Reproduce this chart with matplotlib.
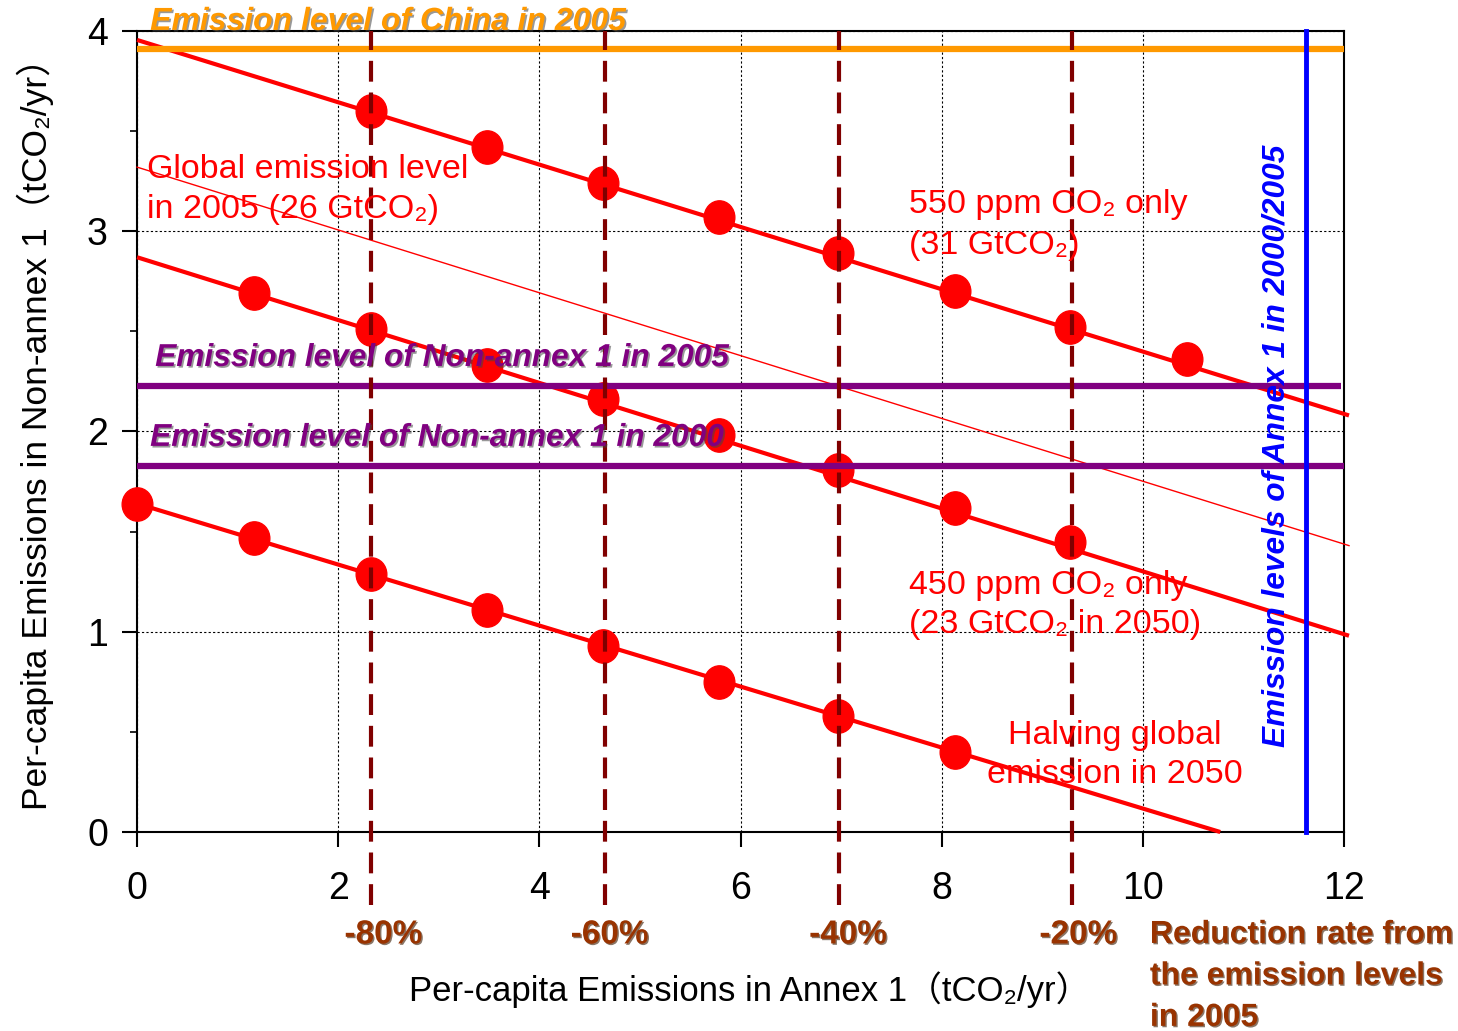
import matplotlib
matplotlib.use("Agg")
import matplotlib.pyplot as plt
import matplotlib.patheffects as pe
import matplotlib.transforms as mtransforms
from matplotlib.path import Path
import numpy as np

# ---------------- data ----------------
x_550 = [2.33, 3.48, 4.63, 5.79, 6.97, 8.13, 9.28, 10.44]
y_550 = [3.60, 3.42, 3.24, 3.07, 2.89, 2.70, 2.52, 2.36]
line550_x = [0.0, 12.05]
line550_y = [3.955, 2.08]

x_450 = [1.16, 2.33, 3.48, 4.63, 5.79, 6.97, 8.13, 9.28]
y_450 = [2.69, 2.51, 2.33, 2.16, 1.98, 1.81, 1.62, 1.45]
line450_x = [0.0, 12.05]
line450_y = [2.87, 0.98]

x_half = [0.0, 1.16, 2.33, 3.48, 4.63, 5.79, 6.97, 8.13]
y_half = [1.64, 1.47, 1.29, 1.11, 0.93, 0.75, 0.58, 0.40]
linehalf_x = [0.0, 10.77]
linehalf_y = [1.64, 0.0]

global2005_x = [0.0, 12.05]
global2005_y = [3.32, 1.43]

china_2005 = 3.91
nonannex_2005 = 2.227
nonannex_2000 = 1.828
annex1_2005 = 11.62

reduction_x = [2.326, 4.65, 6.98, 9.30]
reduction_labels = ["-80%", "-60%", "-40%", "-20%"]
reduction_label_x = [2.45, 4.70, 7.07, 9.36]

xticks = [0, 2, 4, 6, 8, 10, 12]
yticks = [0, 1, 2, 3, 4]

# ---------------- style ----------------
SANS = ["Liberation Sans", "DejaVu Sans", "Noto Sans CJK JP"]
plt.rcParams['font.family'] = SANS

RED = "#FF0000"
ORANGE = "#FF9900"
PURPLE = "#800080"
BLUE = "#0000FF"
DARKRED = "#800000"
BROWN = "#993300"

fig = plt.figure(figsize=(14.58, 10.31), dpi=100)
ax = fig.add_axes([0.094, 0.193, 0.8278, 0.777])
ax.set_xlim(0, 12)
ax.set_ylim(0, 4)

ax.set_xticks(xticks)
ax.set_yticks(yticks)
ax.set_yticks(np.arange(0.5, 4, 1.0), minor=True)
ax.tick_params(axis='both', which='major', direction='out', length=11, width=1.5,
               labelsize=27, colors='black')
ax.tick_params(axis='x', which='major', pad=17)
ax.tick_params(axis='y', which='major', pad=10)
ax.tick_params(axis='y', which='minor', direction='out', length=5, width=1.2)
for s in ax.spines.values():
    s.set_linewidth(1.5)
    s.set_color('black')

ax.grid(True, which='major', linestyle=(0, (2, 2)), linewidth=0.8, color='black', zorder=0)
ax.set_axisbelow(True)

# slightly tall ellipse marker
ell = Path.unit_circle().transformed(mtransforms.Affine2D().scale(0.92, 1.0))

# main lines
ax.plot(global2005_x, global2005_y, color=RED, lw=1.0, zorder=3, clip_on=False)
for lx, ly in [(line550_x, line550_y), (line450_x, line450_y), (linehalf_x, linehalf_y)]:
    ax.plot(lx, ly, color=RED, lw=3.0, zorder=3, clip_on=False, solid_capstyle='butt')
for px, py in [(x_550, y_550), (x_450, y_450), (x_half, y_half)]:
    ax.plot(px, py, linestyle='none', marker=ell, markersize=24, color=RED,
            markeredgecolor=RED, zorder=4, clip_on=False)

# horizontal level lines
ax.plot([0, 12], [china_2005, china_2005], color=ORANGE, lw=4.5, zorder=5, clip_on=False,
        solid_capstyle='butt')
ax.plot([0, 11.97], [nonannex_2005, nonannex_2005], color=PURPLE, lw=4.5, zorder=5,
        solid_capstyle='butt')
ax.plot([0, 12], [nonannex_2000, nonannex_2000], color=PURPLE, lw=4.5, zorder=5,
        solid_capstyle='butt')

# annex1 vertical
ax.plot([annex1_2005, annex1_2005], [0, 4.0], color=BLUE, lw=3.5, zorder=5, clip_on=False)

# reduction dashed lines
for rx in reduction_x:
    ax.plot([rx, rx], [-0.365, 4.0], color=DARKRED, lw=3.0, dashes=(5, 2.6),
            zorder=6, clip_on=False)

# ---------------- texts ----------------
shadow = [pe.withSimplePatchShadow(offset=(1.2, -1.2), shadow_rgbFace='#444444', alpha=0.55)]

ax.text(0.13, 4.045, "Emission level of China in 2005", color=ORANGE, fontsize=23,
        fontweight='bold', fontstyle='italic', ha='left', va='center',
        zorder=8, clip_on=False, path_effects=shadow)
ax.text(0.18, 2.367, "Emission level of Non-annex 1 in 2005", color=PURPLE, fontsize=22.8,
        fontweight='bold', fontstyle='italic', ha='left', va='center',
        zorder=8, path_effects=shadow)
ax.text(0.13, 1.968, "Emission level of Non-annex 1 in 2000", color=PURPLE, fontsize=22.8,
        fontweight='bold', fontstyle='italic', ha='left', va='center',
        zorder=8, path_effects=shadow)

RFS = 24.5
ax.text(0.10, 3.306, "Global emission level", color=RED, fontsize=RFS, ha='left', va='center', zorder=8)
ax.text(0.10, 3.106, "in 2005 (26 GtCO₂)", color=RED, fontsize=RFS, ha='left', va='center', zorder=8)

ax.text(7.68, 3.131, "550 ppm CO₂ only", color=RED, fontsize=RFS, ha='left', va='center', zorder=8)
ax.text(7.68, 2.931, "(31 GtCO₂)", color=RED, fontsize=RFS, ha='left', va='center', zorder=8)

ax.text(7.68, 1.233, "450 ppm CO₂ only", color=RED, fontsize=RFS, ha='left', va='center', zorder=8)
ax.text(7.68, 1.034, "(23 GtCO₂ in 2050)", color=RED, fontsize=RFS, ha='left', va='center', zorder=8)

ax.text(9.72, 0.484, "Halving global", color=RED, fontsize=RFS, ha='center', va='center', zorder=8)
ax.text(9.72, 0.285, "emission in 2050", color=RED, fontsize=RFS, ha='center', va='center', zorder=8)

ax.text(11.33, 1.93, "Emission levels of Annex 1 in 2000/2005", color=BLUE, fontsize=22.8,
        fontweight='bold', fontstyle='italic', rotation=90,
        ha='center', va='center', zorder=8)

bshadow = [pe.withSimplePatchShadow(offset=(1.0, -1.0), shadow_rgbFace='#3a1a00', alpha=0.6)]
for lx, lab in zip(reduction_label_x, reduction_labels):
    ax.text(lx, -0.514, lab, color=BROWN, fontsize=24, fontweight='bold',
            ha='center', va='center', clip_on=False, zorder=8, path_effects=bshadow)
for i, line in enumerate(["Reduction rate from", "the emission levels", "in 2005"]):
    ax.text(10.07, -0.514 - 0.207 * i, line, color=BROWN, fontsize=23, fontweight='bold',
            ha='left', va='center', clip_on=False, zorder=8, path_effects=bshadow)

fig.text(750 / 1458, 1 - 990 / 1031, "Per-capita Emissions in Annex 1（tCO₂/yr）",
         fontsize=25, ha='center', va='center')
fig.text(35 / 1458, 1 - 425 / 1031, "Per-capita Emissions in Non-annex 1（tCO₂/yr）",
         fontsize=25.5, ha='center', va='center', rotation=90)

fig.savefig("out.png", dpi=100)
